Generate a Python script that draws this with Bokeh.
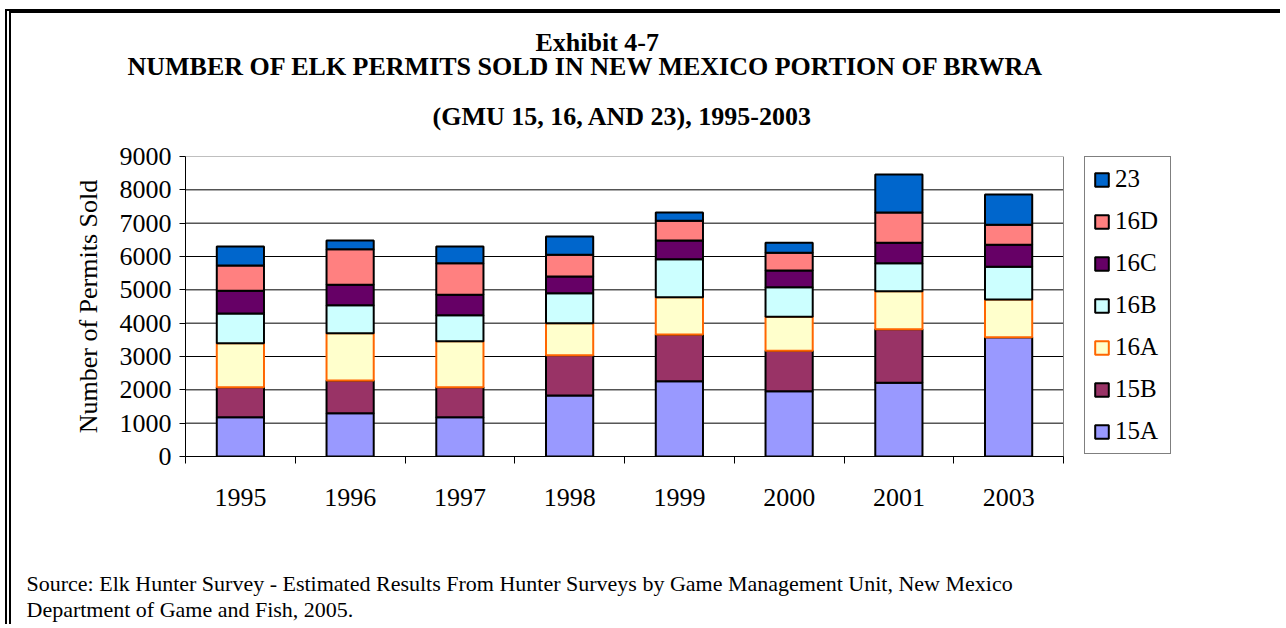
from bokeh.plotting import figure
from bokeh.models import (Range1d, LinearAxis, FixedTicker, Legend, LegendItem,
                          Title, ColumnDataSource)
from bokeh.embed import file_html
from bokeh.resources import INLINE

# ---------------- data ----------------
years = ["1995", "1996", "1997", "1998", "1999", "2000", "2001", "2003"]
series = ["15A", "15B", "16A", "16B", "16C", "16D", "23"]
v15A = [1180, 1300, 1180, 1830, 2260, 1960, 2210, 3580]
v15B = [900, 980, 900, 1210, 1400, 1210, 1610, 0]
v16A = [1320, 1420, 1380, 960, 1120, 1020, 1140, 1130]
v16B = [890, 840, 780, 900, 1140, 890, 840, 980]
v16C = [680, 610, 610, 500, 560, 500, 610, 660]
v16D = [760, 1070, 950, 650, 590, 530, 910, 600]
v23 = [570, 260, 500, 550, 250, 300, 1140, 910]
y_ticks = [0, 1000, 2000, 3000, 4000, 5000, 6000, 7000, 8000, 9000]

title1 = "Exhibit 4-7"
title2 = "NUMBER OF ELK PERMITS SOLD IN NEW MEXICO PORTION OF BRWRA"
title3 = "(GMU 15, 16, AND 23), 1995-2003"
source1 = ("Source: Elk Hunter Survey - Estimated Results From Hunter Surveys by "
           "Game Management Unit, New Mexico")
source2 = "Department of Game and Fish, 2005."

fills = ["#9999FF", "#993366", "#FFFFCC", "#CCFFFF", "#660066", "#FF8080", "#0066CC"]
lines = ["black", "black", "#FF6600", "black", "black", "black", "black"]

FONT = "Liberation Serif"

n = len(years)
xpos = [i + 0.5 for i in range(n)]
src = ColumnDataSource(dict(x=xpos, **{"15A": v15A, "15B": v15B, "16A": v16A,
                                       "16B": v16B, "16C": v16C, "16D": v16D,
                                       "23": v23}))

# page offsets caused by the css border/margin of the figure element
OX, OY = 11, 13
W, H = 1286 - OX, 628 - OY
PLOT_W = 878                     # width of the bar area (categories)
FL, FT, FW, FH = 185 - OX, 156 - OY, 1000, 300   # frame also holds the legend

p = figure(width=W, height=H, x_range=Range1d(0, n * FW / PLOT_W),
           y_range=Range1d(0, 9000), output_backend="svg", toolbar_location=None,
           min_border_left=FL, min_border_right=W - FL - FW, min_border_top=FT,
           min_border_bottom=H - FT - FH)
p.styles = {"margin-top": "9px", "margin-left": "5px",
            "border-top": "4px solid black", "border-left": "6px double black"}
p.background_fill_color = "white"
p.border_fill_color = "white"
p.outline_line_color = None

# horizontal grid lines and the plot-area border, limited to the category span
grid_colors = ["black"] * (len(y_ticks) - 1) + ["#808080"]
p.segment(x0=[0] * len(y_ticks), x1=[n] * len(y_ticks), y0=y_ticks, y1=y_ticks,
          line_color=grid_colors, line_width=1)
p.segment(x0=[n], x1=[n], y0=[y_ticks[0]], y1=[y_ticks[-1]],
          line_color="#808080", line_width=1)

renderers = p.vbar_stack(series, x="x", width=0.43, source=src,
                         fill_color=fills, line_color=lines, line_width=2)

# y axis
ya = p.yaxis[0]
ya.ticker = FixedTicker(ticks=y_ticks)
ya.major_tick_in = 0
ya.major_tick_out = 6
ya.minor_tick_line_color = None
ya.axis_line_color = "black"
ya.major_tick_line_color = "black"
ya.major_label_text_font = FONT
ya.major_label_text_font_size = "26px"
ya.major_label_text_color = "black"
ya.major_label_standoff = 8
ya.axis_label = "Number of Permits Sold"
ya.axis_label_text_font = FONT
ya.axis_label_text_font_size = "26px"
ya.axis_label_text_font_style = "normal"
ya.axis_label_text_color = "black"
ya.axis_label_standoff = 14

# x axis: ticks at category boundaries
xa = p.xaxis[0]
xa.ticker = FixedTicker(ticks=list(range(n + 1)))
xa.major_label_overrides = {i: "" for i in range(n + 1)}
xa.bounds = (0, n)
xa.major_tick_in = 0
xa.major_tick_out = 7
xa.minor_tick_line_color = None
xa.axis_line_color = "black"
xa.major_tick_line_color = "black"
xa.major_label_standoff = 0

# x labels at category centres
xl = LinearAxis(ticker=FixedTicker(ticks=xpos),
                major_label_overrides={x: y for x, y in zip(xpos, years)},
                axis_line_color=None, major_tick_line_color=None,
                minor_tick_line_color=None, major_label_standoff=19,
                major_label_text_font=FONT, major_label_text_font_size="26px",
                major_label_text_color="black")
p.add_layout(xl, "below")

# blank spacer (white, label-less tick) between the year labels and the note
spacer = LinearAxis(ticker=FixedTicker(ticks=[0]), major_label_overrides={0: ""},
                    major_tick_in=0, major_tick_out=58, minor_tick_in=0,
                    minor_tick_out=0, axis_line_color=None,
                    major_tick_line_color="white", minor_tick_line_color=None,
                    major_label_standoff=0)
p.add_layout(spacer, "below")

p.xgrid.visible = False
p.ygrid.visible = False

# legend (inside the widened frame, right of the bar area)
items = [LegendItem(label=s, renderers=[r]) for s, r in zip(series, renderers)]
legend = Legend(items=list(reversed(items)), location=(899, 2),
                border_line_color="black", border_line_width=1,
                background_fill_color="white", padding=8, spacing=14,
                label_standoff=5, label_width=47, glyph_width=17,
                glyph_height=17, margin=0,
                label_text_font=FONT, label_text_font_size="25px",
                label_text_color="black")
p.add_layout(legend)

# titles (left aligned, shifted from the frame's left edge at page x=185)
def title(txt, left, standoff):
    return Title(text=txt, align="left", offset=left - 185, standoff=standoff,
                 text_font=FONT, text_font_size="26px", text_font_style="bold",
                 text_color="black")

p.add_layout(title(title3, 432, 50.8), "above")
p.add_layout(title(title2, 127, -12.4), "above")
p.add_layout(title(title1, 535, -3.2), "above")

# source note
ts = Title(text=source1 + "\n" + source2, align="left", offset=-159, standoff=4,
           text_font=FONT, text_font_size="22px", text_font_style="normal",
           text_color="black", text_line_height=1.066)
p.add_layout(ts, "below")

open("out.html", "w").write(file_html(p, INLINE))
